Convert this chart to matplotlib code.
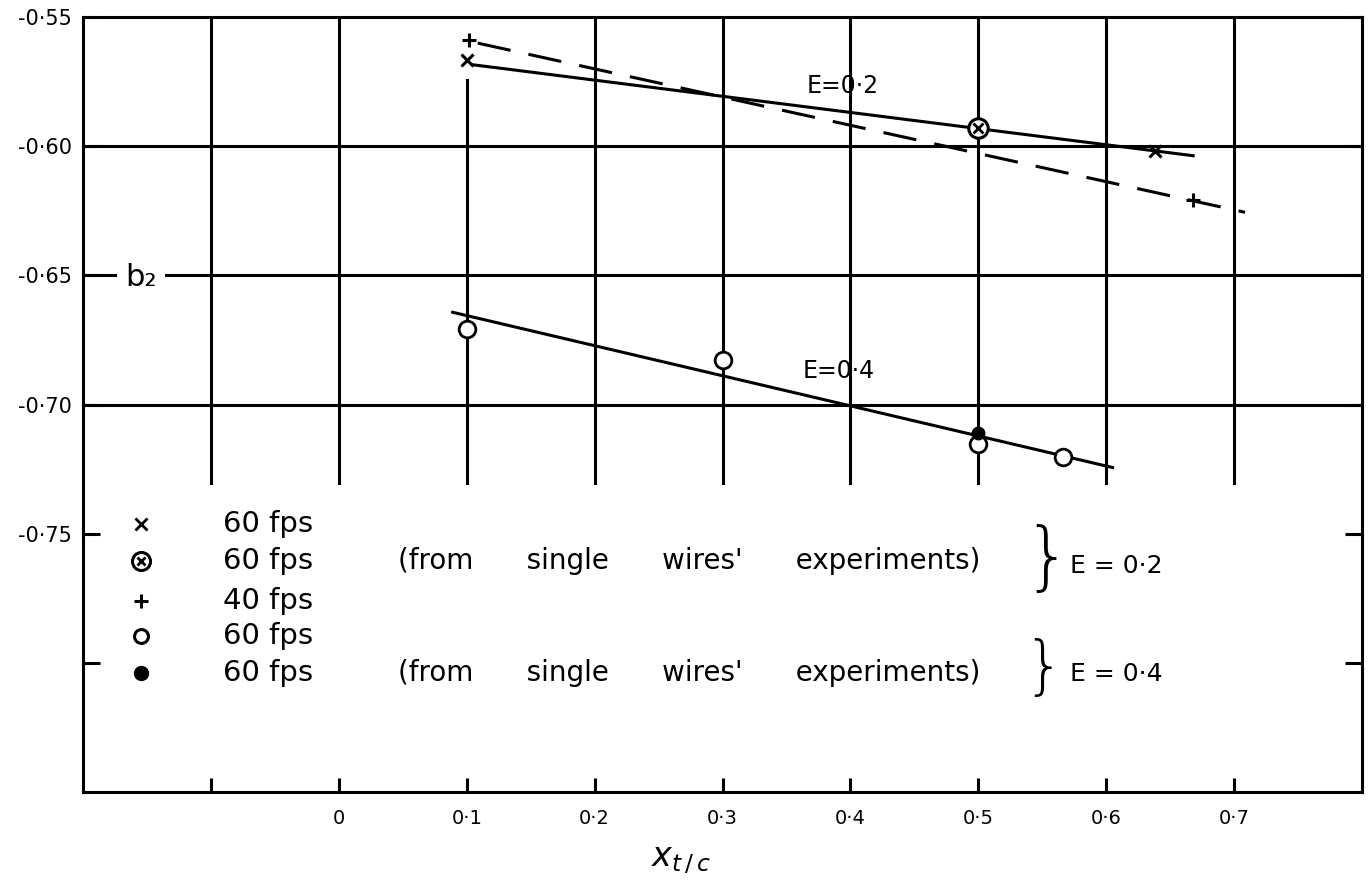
import matplotlib
matplotlib.use("Agg")
import matplotlib.pyplot as plt

plt.rcParams["font.family"] = ["DejaVu Sans"]

# E = 0.2, 60 fps (x markers) and solid fitted line
x60_e02 = [0.1, 0.638]
y60_e02 = [-0.5667, -0.6019]
line_e02_x = [0.105, 0.668]
line_e02_y = [-0.5685, -0.6037]

# E = 0.2, 60 fps from single wires' experiments
xsw_e02 = [0.5]
ysw_e02 = [-0.593]

# E = 0.2, 40 fps (+ markers) and dashed fitted line
x40_e02 = [0.1016, 0.668]
y40_e02 = [-0.5589, -0.6209]
line40_x = [0.1086, 0.7086]
line40_y = [-0.5601, -0.6256]

# E = 0.4, 60 fps (open circles) and solid fitted line
x60_e04 = [0.1, 0.3, 0.5, 0.566]
y60_e04 = [-0.6709, -0.6826, -0.7151, -0.7205]
line_e04_x = [0.089, 0.605]
line_e04_y = [-0.6643, -0.7244]

# E = 0.4, single wires (filled dot)
xsw_e04 = [0.5]
ysw_e04 = [-0.7112]

xticks = [-0.1, 0.0, 0.1, 0.2, 0.3, 0.4, 0.5, 0.6, 0.7]
xtick_labels = ["", "0", "0·1", "0·2", "0·3", "0·4", "0·5", "0·6", "0·7"]
yticks = [-0.55, -0.60, -0.65, -0.70, -0.75, -0.80]
ytick_labels = ["-0·55", "-0·60", "-0·65", "-0·70", "-0·75", ""]

legend_labels = ["60 fps", "60 fps", "40 fps", "60 fps", "60 fps"]
legend_notes = ["", "(from      single      wires'      experiments)", "", "",
                "(from      single      wires'      experiments)"]

LW = 2.2
fig = plt.figure(figsize=(13.68, 8.88), dpi=100)
ax = fig.add_axes([83 / 1368, 1 - 792 / 888, 1279 / 1368, 775 / 888])
ax.set_xlim(-0.2, 0.8)
ax.set_ylim(-0.85, -0.55)

# grid: verticals stop above the key, horizontals run full width
grid_bottom = -0.7305
for gx in xticks:
    top = -0.5745 if abs(gx - 0.1) < 1e-9 else -0.55
    ax.plot([gx, gx], [grid_bottom, top], color="black", lw=LW, zorder=1)
for gy in [-0.60, -0.65, -0.70]:
    ax.axhline(gy, color="black", lw=LW, zorder=1)

for s in ax.spines.values():
    s.set_linewidth(LW)

ax.set_xticks(xticks)
ax.set_xticklabels(xtick_labels, fontsize=14)
ax.set_yticks(yticks)
ax.set_yticklabels(ytick_labels, fontsize=15)
ax.tick_params(axis="x", direction="in", length=10, width=LW, pad=12)
ax.tick_params(axis="y", direction="in", length=12, width=LW, pad=8, right=True)

# fitted lines
ax.plot(line_e02_x, line_e02_y, color="black", lw=LW, zorder=2)
ax.plot(line40_x, line40_y, color="black", lw=LW, ls=(0, (11, 6)), zorder=2)
ax.plot(line_e04_x, line_e04_y, color="black", lw=LW, zorder=2)

# data points
ax.plot(x60_e02, y60_e02, "x", color="black", ms=9, mew=2.2, zorder=4)
ax.plot(xsw_e02, ysw_e02, "o", mfc="white", mec="black", ms=14, mew=2.2, zorder=4)
ax.plot(xsw_e02, ysw_e02, "x", color="black", ms=7, mew=2.0, zorder=5)
ax.plot(x40_e02, y40_e02, "+", color="black", ms=10, mew=2.2, zorder=4)
ax.plot(x60_e04, y60_e04, "o", mfc="white", mec="black", ms=12, mew=2.0, zorder=4)
ax.plot(xsw_e04, ysw_e04, "o", color="black", ms=9, zorder=5)

ax.text(0.366, -0.5767, "E=0·2", fontsize=17, va="center", ha="left")
ax.text(0.3625, -0.6872, "E=0·4", fontsize=17, va="center", ha="left")
ax.text(-0.155, -0.651, "b₂", fontsize=22, va="center", ha="center",
        bbox=dict(facecolor="white", edgecolor="none", pad=6), zorder=3)

# hand-drawn style key
leg_y = [-0.7461, -0.7605, -0.7760, -0.7895, -0.8039]
sym_x = -0.1547
ax.plot(sym_x, leg_y[0], "x", color="black", ms=9, mew=2.0)
ax.plot(sym_x, leg_y[1], "o", mfc="white", mec="black", ms=13, mew=2.2)
ax.plot(sym_x, leg_y[1], "x", color="black", ms=6, mew=2.0)
ax.plot(sym_x, leg_y[2], "+", color="black", ms=10, mew=2.2)
ax.plot(sym_x, leg_y[3], "o", mfc="white", mec="black", ms=10, mew=2.2)
ax.plot(sym_x, leg_y[4], "o", color="black", ms=10)
for yy, lab, note in zip(leg_y, legend_labels, legend_notes):
    ax.text(-0.0906, yy, lab, fontsize=21, va="center", ha="left")
    if note:
        ax.text(0.046, yy, note, fontsize=20, va="center", ha="left")

ax.text(0.535, -0.7601, "}", fontsize=54, va="center", ha="left",
        fontweight="light")
ax.text(0.535, -0.8023, "}", fontsize=46, va="center", ha="left",
        fontweight="light")
ax.text(0.572, -0.7624, "E = 0·2", fontsize=18, va="center", ha="left")
ax.text(0.572, -0.8043, "E = 0·4", fontsize=18, va="center", ha="left")

ax.text(0.4676, -0.0877, r"$x_{t\,/\,c}$", transform=ax.transAxes,
        fontsize=24, ha="center", va="center")

fig.savefig("out.png", dpi=100)
